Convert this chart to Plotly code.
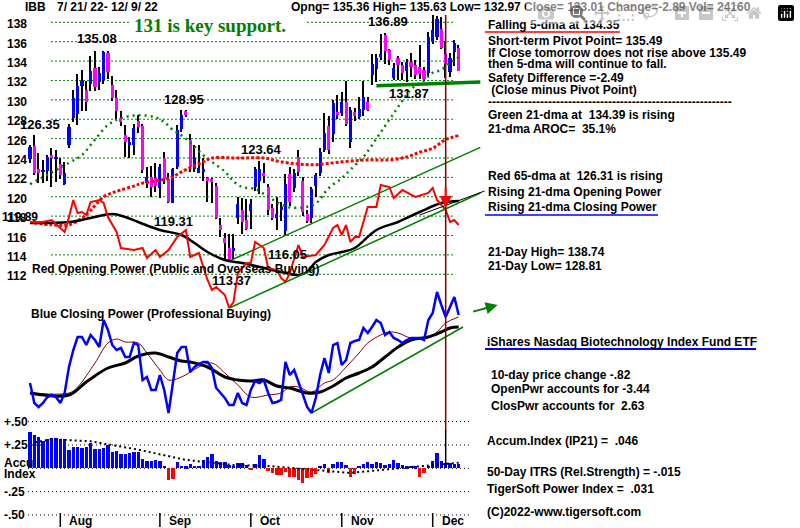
import plotly.graph_objects as go

W, H = 800, 528

# ---------------- data ----------------
days = list(range(100))
opens = [123.9,125.2,122.9,122.6,122.7,124.3,123.9,123.4,121.3,125.3,
         128.1,128.5,131.4,131.0,131.6,133.3,131.8,132.0,134.8,131.5,
         130.2,128.1,126.4,125.4,125.3,127.8,127.3,121.4,122.0,121.9,
         120.9,124.0,121.8,119.4,123.1,127.0,128.9,125.9,122.9,122.5,
         122.6,121.9,121.8,121.1,117.1,115.7,114.7,114.5,117.8,118.6,
         117.6,118.5,121.0,121.6,122.4,121.0,118.8,117.8,118.7,116.5,
         122.3,120.9,124.1,121.6,118.2,117.8,121.1,122.4,124.8,127.3,
         126.5,128.7,128.6,129.8,125.6,128.7,128.2,129.0,129.8,132.6,
         133.2,134.5,136.7,135.1,132.3,134.3,133.6,133.0,133.9,133.6,
         133.4,133.1,132.8,136.1,136.5,137.3,134.7,132.9,134.9,135.36]
highs = [125.3,126.35,124.5,123.8,124.3,125.0,124.8,124.0,123.6,127.5,
         131.0,132.7,133.1,131.9,134.5,135.0,133.4,135.08,135.0,132.5,
         131.0,128.8,127.4,126.2,127.5,128.4,127.5,123.1,123.2,123.5,
         123.4,124.6,122.5,123.0,127.4,128.95,128.95,126.5,125.3,125.3,
         124.0,122.0,121.9,121.4,117.8,116.3,116.2,116.2,120.0,119.9,
         119.8,119.8,123.1,123.64,123.5,121.3,119.3,120.0,119.5,122.3,
         123.1,122.9,124.8,122.0,118.6,121.0,122.4,125.0,128.6,128.3,
         130.0,130.5,130.8,131.9,129.3,129.2,130.3,131.9,130.3,134.7,
         134.7,136.8,136.89,135.2,133.8,134.5,133.9,134.2,134.8,134.1,
         135.7,133.4,137.0,138.74,138.7,138.6,136.1,134.8,136.2,135.63]
lows = [123.5,122.2,121.4,121.4,121.6,121.0,121.5,121.8,121.2,125.0,
        127.7,127.4,128.8,128.8,130.9,130.9,131.0,131.6,132.2,129.9,
        128.0,127.3,124.1,124.0,124.3,126.6,122.4,120.9,120.0,120.5,
        119.9,121.3,119.4,119.31,122.9,126.7,128.2,122.6,122.6,122.4,
        121.6,119.5,119.4,117.7,115.8,113.5,113.37,113.6,117.2,116.2,
        116.6,116.7,120.6,120.3,121.4,118.1,117.6,116.6,117.5,116.05,
        119.0,120.5,122.1,118.0,117.3,117.3,120.0,122.1,124.6,124.4,
        125.7,128.0,128.3,127.3,125.0,127.8,128.0,128.3,128.9,131.5,
        131.8,134.1,133.7,133.6,132.0,132.0,132.0,131.87,132.4,132.2,
        132.1,131.9,132.4,135.8,136.2,135.2,132.3,132.4,133.5,132.97]
closes = [125.1,122.5,122.5,122.7,124.1,124.0,124.0,122.2,122.5,127.2,
          130.2,131.4,131.9,129.8,133.0,131.3,132.8,134.9,132.9,130.2,
          128.8,127.7,125.6,125.6,127.1,127.2,122.8,122.0,121.0,121.1,
          123.1,121.8,119.5,122.9,126.9,128.4,128.4,123.1,124.0,123.0,
          122.9,121.7,121.6,117.8,116.6,115.2,113.6,114.7,119.3,117.4,
          116.7,119.2,122.9,122.9,122.1,118.6,117.8,118.2,118.9,121.3,
          119.5,122.4,122.6,118.4,117.5,120.8,122.2,124.6,126.6,124.8,
          129.7,128.5,129.8,127.5,129.0,128.3,129.1,130.3,129.0,133.7,
          134.3,134.7,135.0,134.1,133.3,133.6,132.8,133.9,133.4,132.6,
          132.7,132.1,136.5,137.2,138.3,135.4,133.7,134.3,135.9,133.01]

# 21-dma (green dotted) and 65-dma (red dotted), read at sample days
ma21_days = [0,9,12,15,18,21,25,29,31,33,36,40,42,45,47,49,52,55,58,60,63,66,69,72,74,77,80,82,84,86,88,91,93,95,97,99]
ma21_vals = [121.3,123.5,124.3,125.9,127.4,128.1,128.4,128.2,127.7,126.9,126.0,124.3,123.6,122.6,121.6,121.0,
             120.8,120.0,119.2,118.9,118.9,119.3,120.9,121.9,122.8,124.1,126.0,127.3,128.6,129.9,131.1,132.0,
             132.8,133.1,133.8,134.39]
ma65_days = [1,5,9,12,14,17,19,21,24,26,32,36,40,42,47,49,54,58,65,72,78,83,87,90,93,96,99]
ma65_vals = [117.3,117.1,117.1,117.8,118.6,120.0,120.4,120.7,121.1,121.4,121.9,122.8,123.6,124.0,124.0,124.0,
             124.0,123.6,123.3,123.6,123.8,123.8,124.1,124.6,125.0,125.9,126.31]

# Red Opening Power and its black moving average (relative units)
op_days = [0,3,5,8,9,10,11,12,13,14,16,17,18,20,21,24,26,27,29,30,32,34,36,37,39,41,42,43,45,46,
           47,48,50,51,52,54,55,57,58,59,60,62,63,66,68,70,71,72,73,74,75,76,78,80,81,83,84,86,89,92,
           93,94,96,97,98,99]
op_vals = [14,14,15,9,16.5,25,18.5,19,17.5,24,25,23.5,16.5,9,1,0,1,-4,0,-3.5,0,6.5,10,-3.5,-1.5,-15,-20,-18.5,-22.5,-29,
           -26,-11.5,-6.5,-6.5,4,1,-9,-10,-14,-16,-11.5,2.5,-3.5,-2.5,2.5,11,12.5,7.5,12.5,4,6.5,6.5,21.5,21.5,32.5,31.5,26,30,26.5,28.5,
           31,25,20,14,15,12.5]
opma_days = [0,9,14,19,22,25,30,35,38,41,45,49,55,59,62,64,66,69,72,75,80,85,90,95,99]
opma_vals = [13.5,14,16,18,16.5,14,10,7.5,3.5,-1,-5,-6.5,-9.5,-11.5,-12.5,-11,-6,-2.5,-1,1,10,14,19,23.5,24.5]

# Blue Closing Power (relative units) and its moving averages
cp_vals = [16,6,4,6,9,10,9,6,11,24,
           32.5,39,39,35,40,37.5,34,47.5,42.5,35,
           32.5,33.5,29,29,36,35,17.5,19,12.5,12.5,
           20,12.5,1,16,31,34,34,21.5,24,25.5,
           26.5,26.5,23.5,13.5,11,8.5,5,5,11,6,
           5,12.5,17,16,17.5,11,6,6.5,7.5,26.5,
           20,22.5,16.5,10,4,1,8.5,20,28.5,21,
           35,36,25,27.5,36,37,37.5,43.5,41,44,
           47.5,46,40,41.5,38.5,37.5,36,37.5,38.5,38.5,
           38.5,37.5,47.5,51,61.5,55,49,54,59,50]
cpma_days = [0,9,11,15,18,20,22,25,27,30,32,35,39,42,45,48,51,55,58,60,62,65,68,70,73,76,78,81,83,85,88,92,94,96,99]
cpma_vals = [11,11,14,26,36,38,36.5,36,31,22.5,17.5,19,24,26,21,15,9,10,11,14,14,11.5,16,17.5,24,31,36,40,41.5,41,38.5,39,41.5,46,49]
cpma2_days = [0,9,13,18,22,25,29,32,35,37,41,45,48,51,54,57,60,64,67,70,73,76,79,82,85,88,92,95,97,99]
cpma2_vals = [11,10,16.5,23.5,26,29.5,31,29,27,26.5,24,19,17.5,17,17.5,14.5,13.5,11,11.5,14.5,18.5,21,24,29,34,37.5,39,41.5,43.5,44]

# Accumulation Index (IP21)
acc_vals = [0.39,0.36,0.34,0.29,0.31,0.32,0.33,0.31,0.31,0.20,
            0.23,0.23,0.22,0.23,0.27,0.21,0.21,0.22,0.25,0.18,
            0.19,0.15,0.15,0.16,0.17,0.18,0.10,0.08,0.08,0.09,
            0.08,0.025,-0.12,-0.11,0.07,0.03,0.02,0.05,0.03,0.03,
            0.09,0.12,0.15,0.08,0.07,0.07,0.04,0.03,0.06,0.06,
            0.04,-0.01,0.05,0.14,0.10,-0.03,-0.05,-0.07,-0.07,-0.04,
            -0.09,-0.09,-0.13,-0.16,-0.10,-0.09,-0.06,0.03,0.05,-0.05,
            0.05,0.07,0.07,0.04,-0.09,-0.06,0.03,0.05,0.07,0.05,
            0.07,0.06,0.04,0.05,0.09,0.06,0.04,0.02,0.03,0.02,
            -0.09,-0.05,0.03,0.08,0.16,0.08,0.06,0.06,0.05,0.046]
acc_trend_days = [0,5,14,25,36,47,55,67,74,85,99]
acc_trend_vals = [0.27,0.31,0.29,0.20,0.09,0.035,0.025,-0.02,-0.05,0.0,0.06]

# trend lines (end points)
tl_price_days, tl_price_vals = [46, 104], [113.37, 125.1]
tl_op_days, tl_op_vals = [46, 104], [-29, 28.5]
support_days, support_vals = [80, 104], [131.45, 131.85]
thin_op_days, thin_op_vals = [90, 105], [17.5, 29.5]
tl_cp_days, tl_cp_vals = [65, 100], [1, 44]

price_ticks = [138,136,134,132,130,128,126,124,122,120,118,116,114,112]
acc_ticks = [0.5, 0.25, 0, -0.25, -0.5]
acc_tick_text = ["+.50", "+.25", None, "-.25", "-.50"]
month_days = [7, 30, 51, 72, 93]
month_names = ["Aug", "Sep", "Oct", "Nov", "Dec"]
signal_day = 96

peak_labels = [("126.35", 18, 124, "left"), ("135.08", 97, 38, "center"), ("128.95", 184, 99, "center"),
               ("123.64", 261, 149, "center"), ("119.31", 173.5, 222, "center"), ("116.05", 287.5, 254, "center"),
               ("113.37", 231, 280, "center"), ("136.89", 388, 21, "center"), ("131.87", 409, 94, "center")]

# ---------------- scales ----------------
X0, DX = 30.0, 4.33
xr = [-X0 / DX, (W - X0) / DX]
PY0, PV0, PK = 41.7, 136.0, 9.69            # price: y = 41.7 + (136 - v) * 9.69
yr_price = [PV0 - (H - PY0) / PK, PV0 + PY0 / PK]
yr_op = [(250 - H) / 2, 250 / 2]
yr_cp = [(415 - H) / 2, 415 / 2]
yr_acc = [(468.3 - H) / 93.3, 468.3 / 93.3]

def px(x): return x / W
def py(y): return 1 - y / H

FONT = "Liberation Sans"
fig = go.Figure()

# Accumulation index bars
fig.add_trace(go.Bar(x=days, y=acc_vals, yaxis="y4", width=0.78,
                     marker=dict(color=["#0000FF" if v >= 0 else "#FF0000" for v in acc_vals], line=dict(width=0))))
fig.add_trace(go.Scatter(x=acc_trend_days, y=acc_trend_vals, yaxis="y4", mode="lines",
                         line=dict(color="black", width=2, dash="2px,3px")))

# Closing power panel
fig.add_trace(go.Scatter(x=tl_cp_days, y=tl_cp_vals, yaxis="y3", mode="lines", line=dict(color="#008000", width=1.5)))
fig.add_trace(go.Scatter(x=cpma_days, y=cpma_vals, yaxis="y3", mode="lines", line=dict(color="#800000", width=1, shape="spline")))
fig.add_trace(go.Scatter(x=cpma2_days, y=cpma2_vals, yaxis="y3", mode="lines", line=dict(color="black", width=3, shape="spline")))
fig.add_trace(go.Scatter(x=days, y=cp_vals, yaxis="y3", mode="lines", line=dict(color="#0000FF", width=2.5)))

# Opening power in price panel
fig.add_trace(go.Scatter(x=opma_days, y=opma_vals, yaxis="y2", mode="lines", line=dict(color="black", width=2.5, shape="spline")))
fig.add_trace(go.Scatter(x=op_days, y=op_vals, yaxis="y2", mode="lines", line=dict(color="#FF0000", width=2)))
fig.add_trace(go.Scatter(x=tl_op_days, y=tl_op_vals, yaxis="y2", mode="lines", line=dict(color="#008000", width=1.5)))
fig.add_trace(go.Scatter(x=thin_op_days, y=thin_op_vals, yaxis="y2", mode="lines", line=dict(color="black", width=1)))

# Moving averages of price
fig.add_trace(go.Scatter(x=ma21_days, y=ma21_vals, mode="lines", line=dict(color="#008000", width=2.5, dash="2px,4px", shape="spline")))
fig.add_trace(go.Scatter(x=ma65_days, y=ma65_vals, mode="lines", line=dict(color="#FF0000", width=3, dash="3px,2px", shape="spline")))

# OHLC bars
fig.add_trace(go.Bar(x=days, y=[h - l for h, l in zip(highs, lows)], base=lows, width=0.32,
                     marker=dict(color="black", line=dict(width=0))))
body_base = [min(o, c) for o, c in zip(opens, closes)]
body_h = [max(abs(c - o), 0.12) for o, c in zip(opens, closes)]
body_col = ["#0000FF" if c >= o else "#FF00FF" for o, c in zip(opens, closes)]
fig.add_trace(go.Bar(x=days, y=body_h, base=body_base, width=0.72, marker=dict(color=body_col, line=dict(width=0))))

# price trend lines
fig.add_trace(go.Scatter(x=tl_price_days, y=tl_price_vals, mode="lines", line=dict(color="#008000", width=1.5)))
fig.add_trace(go.Scatter(x=support_days, y=support_vals, mode="lines", line=dict(color="#008000", width=3.5)))

shapes = []
for v in price_ticks:
    shapes.append(dict(type="line", xref="paper", yref="y", x0=px(51), x1=px(453), y0=v, y1=v,
                       line=dict(color="#008000", width=1, dash="2px,2px"), layer="below"))
shapes.append(dict(type="rect", xref="paper", yref="paper", x0=px(130), x1=px(306), y0=py(36), y1=py(14),
                   fillcolor="white", line=dict(width=0), layer="below"))
for v in acc_ticks:
    shapes.append(dict(type="line", xref="paper", yref="y4", x0=px(28), x1=px(472), y0=v, y1=v,
                       line=dict(color="black", width=1, dash="1px,3px"), layer="below"))
shapes.append(dict(type="line", xref="x", yref="paper", x0=signal_day, x1=signal_day, y0=py(430), y1=py(15),
                   line=dict(color="#800000", width=1.5)))
shapes.append(dict(type="line", xref="x", yref="paper", x0=signal_day, x1=signal_day, y0=py(468), y1=py(430),
                   line=dict(color="black", width=1.5)))
for d in month_days:
    shapes.append(dict(type="line", xref="x", yref="paper", x0=d, x1=d, y0=py(527), y1=py(513),
                       line=dict(color="black", width=1.5)))
shapes.append(dict(type="line", xref="paper", yref="paper", x0=px(485), x1=px(620), y0=py(32), y1=py(32),
                   line=dict(color="#FF0000", width=1.5)))
shapes.append(dict(type="line", xref="paper", yref="paper", x0=px(485), x1=px(658), y0=py(215), y1=py(215),
                   line=dict(color="#0000FF", width=1.5)))
shapes.append(dict(type="line", xref="paper", yref="paper", x0=px(485), x1=px(756), y0=py(349), y1=py(349),
                   line=dict(color="#0000FF", width=2)))

ann = []
def txt(t, x, y, size=12, color="black", anchor="left", family=FONT, bold=True):
    ann.append(dict(text=("<b>%s</b>" % t) if bold else t, x=px(x), y=py(y), xref="paper", yref="paper",
                    xanchor=anchor, yanchor="middle", showarrow=False,
                    font=dict(family=family, size=size, color=color)))

NB = "\u00a0"
txt("IBB", 22.7, 7.5)
txt("7/ 21/ 22- 12/ 9/ 22", 55, 7.5)
txt("Opng= 135.36 High= 135.63 Low= 132.97 Close= 133.01 Change=-2.89 Vol= 24160", 289, 7.5)
txt("131 is key support.", 210, 26, size=19, color="#008000", anchor="center", family="Liberation Serif")

right = [("Falling 5-dma at 134.35", 25), ("Short-term Pivot Point= 135.49", 40.7),
         ("If Close tomorrow does not rise above 135.49", 52.7), ("then 5-dma will continue to fall.", 64.3),
         ("Safety Difference =-2.49", 77.7), (NB + "(Close minus Pivot Point)", 90),
         ("-" * 61, 101.7), ("Green 21-dma at " + NB + "134.39 is rising", 115),
         ("21-dma AROC= " + NB + "35.1%", 129.3), ("Red 65-dma at " + NB + "126.31 is rising", 176),
         ("Rising 21-dma Opening Power", 192), ("Rising 21-dma Closing Power", 206.7),
         ("21-Day High= 138.74", 252.3), ("21-Day Low= 128.81", 265.7)]
for t, y in right:
    txt(t, 485.5, y)

txt("iShares Nasdaq Biotechnology Index Fund ETF", 485, 341.7)
txt("10-day price change -.82", 489, 375)
txt("OpenPwr accounts for -3.44", 489, 389.3)
txt("ClosPwr accounts for " + NB + "2.63", 489, 405.7)
txt("Accum.Index (IP21) = " + NB + ".046", 485, 441)
txt("50-Day ITRS (Rel.Strength) = -.015", 485, 471.7)
txt("TigerSoft Power Index = " + NB + ".031", 485, 489.3)
txt("(C)2022-www.tigersoft.com", 485, 511.7)

txt("Blue Closing Power (Professional Buying)", 29, 314.3)
txt("Red Opening Power (Public and Overseas Buying)", 30, 269)

for v in price_ticks:
    txt(str(v), 5, PY0 + (PV0 - v) * PK + 2)
txt("119.89", 0, 217)
for v, t in zip(acc_ticks, acc_tick_text):
    if t:
        txt(t, 2, 468.3 - 93.3 * v)
txt("Accu", 2, 462.7)
txt("Index", 2, 474.3)
for d, m in zip(month_days, month_names):
    txt(m, X0 + DX * d + 7, 521)
for t, x, y, a in peak_labels:
    txt(t, x, y, size=13, anchor=a)

# arrows
ann.append(dict(x=signal_day, y=21, xref="x", yref="y2", ax=0, ay=-22, showarrow=True,
                arrowhead=2, arrowsize=1.2, arrowwidth=2, arrowcolor="#FF0000", text=""))
ann.append(dict(x=108, y=55, xref="x", yref="y3", ax=102, ay=51.5, axref="x", ayref="y3", showarrow=True,
                arrowhead=2, arrowsize=1.2, arrowwidth=2, arrowcolor="#008000", text=""))

fig.update_layout(
    width=W, height=H, margin=dict(l=0, r=0, t=0, b=0), autosize=False,
    paper_bgcolor="white", plot_bgcolor="white", showlegend=False, barmode="overlay", bargap=0,
    xaxis=dict(range=xr, visible=False, fixedrange=True),
    yaxis=dict(range=yr_price, visible=False),
    yaxis2=dict(range=yr_op, overlaying="y", visible=False),
    yaxis3=dict(range=yr_cp, overlaying="y", visible=False),
    yaxis4=dict(range=yr_acc, overlaying="y", visible=False),
    shapes=shapes, annotations=ann,
)

fig.write_html("out.html", post_script="document.body.style.margin='0';document.body.style.padding='0';")
